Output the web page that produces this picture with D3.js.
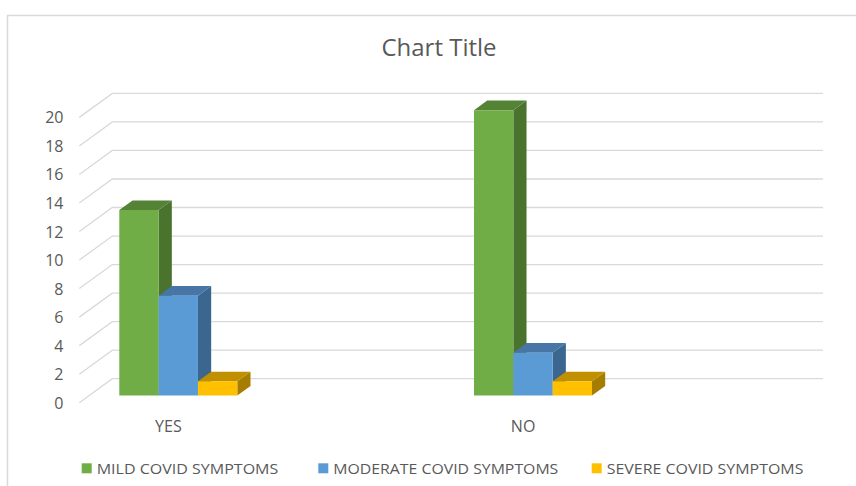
<!DOCTYPE html>
<html>
<head>
<meta charset="utf-8">
<script src="https://cdn.jsdelivr.net/npm/d3@7"></script>
<style>
  html, body { margin: 0; padding: 0; background: #fff; }
  svg { display: block; }
  text { font-family: "Open Sans", "Noto Sans", sans-serif; fill: #595959; }
</style>
</head>
<body>
<svg id="chart" width="856" height="486"></svg>
<script>
// ---- data ----
const categories = ["YES", "NO"];
const seriesNames = ["MILD COVID SYMPTOMS", "MODERATE COVID SYMPTOMS", "SEVERE COVID SYMPTOMS"];
const mildValues = [13, 20];
const moderateValues = [7, 3];
const severeValues = [1, 1];
const yTickValues = [0, 2, 4, 6, 8, 10, 12, 14, 16, 18, 20];
const chartTitle = "Chart Title";

// ---- styles / layout ----
const seriesValues = [mildValues, moderateValues, severeValues];
const colors = [
  { front: "#70AD47", side: "#4A732D", top: "#558336" },
  { front: "#5B9BD5", side: "#3B6690", top: "#4675A6" },
  { front: "#FFC000", side: "#A67D00", top: "#C09000" }
];
const W = 856, H = 486;
const frontLeft = 79.3, backRight = 823;
const depthX = 33, depthY = 24;       // floor depth offset
const barD0 = 0.3, barD1 = 0.7;       // bar depth position

const svg = d3.select("#chart");

// chart border (left + top)
svg.append("path")
  .attr("d", `M7.5,${H} L7.5,15.5 L${W},15.5`)
  .attr("fill", "none").attr("stroke", "#d9d9d9").attr("stroke-width", 1.5);

const y = d3.scaleLinear().domain([0, 20]).range([402.7, 117.4]);
const xCenter = d3.scalePoint().domain(categories).range([168.4, 523.1]);
const xSub = d3.scaleBand().domain(seriesNames).range([-59, 59]).padding(0);

function proj(x, v, d) { return [x + depthX * d, y(v) - depthY * d]; }

// gridlines (diagonal on side wall + horizontal on back wall)
const grid = svg.append("g");
yTickValues.forEach(v => {
  const a = proj(frontLeft, v, 0), b = proj(frontLeft, v, 1);
  grid.append("path")
    .attr("d", `M${a[0]},${a[1]} L${b[0]},${b[1]} L${backRight},${b[1]}`)
    .attr("fill", "none").attr("stroke", "#d9d9d9").attr("stroke-width", 1.3);
});

// y-axis labels
svg.append("g").selectAll("text").data(yTickValues).join("text")
  .attr("x", 63.5)
  .attr("y", d => y(d) + 6)
  .attr("text-anchor", "end")
  .attr("font-size", 16)
  .text(d => d);

// bars
const bars = svg.append("g");
categories.forEach((cat, ci) => {
  seriesNames.forEach((s, si) => {
    const v = seriesValues[si][ci];
    const x0 = xCenter(cat) + xSub(s);
    const x1 = x0 + xSub.bandwidth();
    const c = colors[si];
    const pts = arr => arr.map(p => p.join(",")).join(" ");
    // side
    bars.append("polygon")
      .attr("points", pts([proj(x1, v, barD0), proj(x1, v, barD1), proj(x1, 0, barD1), proj(x1, 0, barD0)]))
      .attr("fill", c.side);
    // top
    bars.append("polygon")
      .attr("points", pts([proj(x0, v, barD0), proj(x1, v, barD0), proj(x1, v, barD1), proj(x0, v, barD1)]))
      .attr("fill", c.top);
    // front
    bars.append("polygon")
      .attr("points", pts([proj(x0, 0, barD0), proj(x1, 0, barD0), proj(x1, v, barD0), proj(x0, v, barD0)]))
      .attr("fill", c.front);
  });
});

// x-axis labels
svg.append("g").selectAll("text").data(categories).join("text")
  .attr("x", d => xCenter(d))
  .attr("y", 432)
  .attr("text-anchor", "middle")
  .attr("font-size", 16)
  .text(d => d);

// title
svg.append("text")
  .attr("x", 439).attr("y", 56)
  .attr("text-anchor", "middle")
  .attr("font-size", 23)
  .attr("textLength", 115).attr("lengthAdjust", "spacingAndGlyphs")
  .text(chartTitle);

// legend
const legendX = [81.7, 318.3, 591.7];
const legendW = [181.6, 225, 196.7];
const leg = svg.append("g");
seriesNames.forEach((s, i) => {
  leg.append("rect")
    .attr("x", legendX[i]).attr("y", 463.3)
    .attr("width", 10).attr("height", 10)
    .attr("fill", colors[i].front);
  leg.append("text")
    .attr("x", legendX[i] + 15).attr("y", 473.8)
    .attr("font-size", 15)
    .attr("textLength", legendW[i]).attr("lengthAdjust", "spacingAndGlyphs")
    .text(s);
});
</script>
</body>
</html>
